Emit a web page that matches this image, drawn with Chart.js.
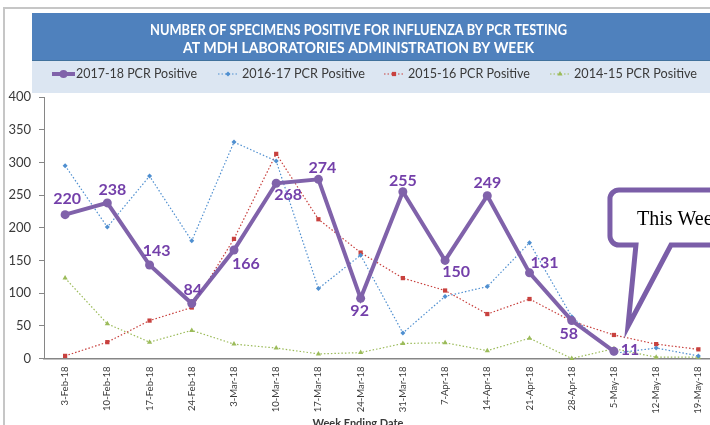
<!DOCTYPE html>
<html>
<head>
<meta charset="utf-8">
<script src="https://cdn.jsdelivr.net/npm/chart.js@4.4.1/dist/chart.umd.min.js"></script>
<style>
  html, body { margin: 0; padding: 0; background: #ffffff; overflow: hidden; }
  #wrap { position: relative; width: 710px; height: 425px; overflow: hidden; }
  canvas { display: block; }
</style>
</head>
<body>
<div id="wrap"><canvas id="c" width="724" height="432"></canvas></div>
<script>
// ---------- data ----------
const categories = ['3-Feb-18','10-Feb-18','17-Feb-18','24-Feb-18','3-Mar-18','10-Mar-18','17-Mar-18','24-Mar-18',
  '31-Mar-18','7-Apr-18','14-Apr-18','21-Apr-18','28-Apr-18','5-May-18','12-May-18','19-May-18'];
const pcr2017_18 = [220, 238, 143, 84, 166, 268, 274, 92, 255, 150, 249, 131, 58, 11, null, null];
const pcr2016_17 = [295, 201, 279, 180, 331, 302, 107, 158, 39, 95, 110, 177, 64, 8, 16, 4];
const pcr2015_16 = [4, 25, 58, 78, 183, 313, 213, 162, 123, 104, 68, 91, 57, 36, 22, 14];
const pcr2014_15 = [123, 53, 25, 43, 22, 16, 7, 9, 23, 24, 12, 31, 0, 15, 2, 2];
const seriesNames = ['2017-18 PCR Positive', '2016-17 PCR Positive', '2015-16 PCR Positive', '2014-15 PCR Positive'];
const yMin = 0, yMax = 400, yStep = 50;
const titleLines = ['NUMBER OF SPECIMENS POSITIVE FOR INFLUENZA BY PCR TESTING', 'AT MDH LABORATORIES ADMINISTRATION BY WEEK'];
const xAxisTitle = 'Week Ending Date';
const calloutText = 'This Week';
const calloutIndex = 13;

// ---------- styling ----------
const PURPLE = '#8062aa';
const LABEL_PURPLE = '#7440aa';
const BLUE = '#4f8fd0';
const RED = '#c8413e';
const GREEN = '#9bbb59';
const AXIS = '#868686';
const TEXT = '#3a3a3a';
// label offsets (dx, dy) relative to each 2017-18 point
const labelOffsets = [[2,-16],[5,-13],[7,-14],[1,-14],[12,14],[12,12],[4,-12],[-1,12],[0,-11],[11,11],[0,-13],[15,-10],[-3,13],[16,-1]];

const decorPlugin = {
  id: 'decor',
  beforeDraw(chart) {
    const ctx = chart.ctx;
    ctx.save();
    ctx.fillStyle = '#ffffff';
    ctx.fillRect(0, 0, chart.width, chart.height);
    // outer frame
    ctx.fillStyle = '#c6c6c6';
    ctx.fillRect(3, 7, chart.width, 2);
    ctx.fillRect(3, 7, 2, chart.height);
    // title band
    ctx.fillStyle = '#4f81bd';
    ctx.fillRect(32, 13, chart.width, 48);
    ctx.fillStyle = '#41719c';
    ctx.fillRect(32, 60, chart.width, 1);
    // legend band
    ctx.fillStyle = '#dce6f2';
    ctx.fillRect(32, 61, chart.width, 32);
    // title text
    ctx.fillStyle = '#ffffff';
    ctx.textBaseline = 'alphabetic';
    ctx.textAlign = 'left';
    ctx.font = 'bold 16px Lato';
    const targets = [[150, 567, 35], [183, 534, 53]];
    titleLines.forEach((t, i) => {
      const [x0, x1, yb] = targets[i];
      const w = ctx.measureText(t).width;
      const sx = (x1 - x0) / w;
      ctx.save();
      ctx.translate(x0, yb);
      ctx.scale(sx, 1);
      ctx.fillText(t, 0, 0);
      ctx.restore();
    });
    // legend
    const items = [
      {x0: 52, x1: 75, tx: 76, tw: 121, color: PURPLE, dash: [], lw: 4, style: 'circle', r: 4},
      {x0: 218, x1: 238, tx: 242, tw: 123, color: BLUE, dash: [1.5, 2], lw: 1.2, style: 'rectRot', r: 2.5},
      {x0: 384, x1: 404, tx: 408, tw: 122, color: RED, dash: [1.5, 2], lw: 1.2, style: 'rect', r: 3},
      {x0: 550, x1: 570, tx: 574, tw: 123, color: GREEN, dash: [1.5, 2], lw: 1.2, style: 'triangle', r: 3}
    ];
    const ly = 74;
    items.forEach((it, i) => {
      ctx.save();
      ctx.strokeStyle = it.color;
      ctx.lineWidth = it.lw;
      ctx.setLineDash(it.dash);
      ctx.beginPath();
      ctx.moveTo(it.x0, ly);
      ctx.lineTo(it.x1, ly);
      ctx.stroke();
      ctx.setLineDash([]);
      ctx.fillStyle = it.color;
      Chart.helpers.drawPoint(ctx, {pointStyle: it.style, radius: it.r, borderWidth: 0}, (it.x0 + it.x1) / 2, ly);
      ctx.restore();
      ctx.fillStyle = TEXT;
      ctx.font = '13.5px Lato';
      ctx.textBaseline = 'middle';
      const w = ctx.measureText(seriesNames[i]).width;
      ctx.save();
      ctx.translate(it.tx, ly);
      ctx.scale(it.tw / w, 1);
      ctx.fillText(seriesNames[i], 0, 0);
      ctx.restore();
    });
    ctx.restore();
  },
  afterDatasetsDraw(chart) {
    const ctx = chart.ctx;
    const meta = chart.getDatasetMeta(0);
    ctx.save();
    // data labels for 2017-18
    ctx.fillStyle = LABEL_PURPLE;
    ctx.font = 'bold 16px Lato';
    ctx.textAlign = 'center';
    ctx.textBaseline = 'middle';
    pcr2017_18.forEach((v, i) => {
      if (v === null) return;
      const el = meta.data[i];
      const [dx, dy] = labelOffsets[i];
      ctx.fillText(String(v), el.x + dx, el.y + dy);
    });
    // callout
    const p = meta.data[calloutIndex];
    const tipX = p.x + 14, tipY = p.y - 25;
    const left = p.x - 4, top = 190, bottom = 245, right = chart.width + 40, r = 9;
    ctx.beginPath();
    ctx.moveTo(left + r, top);
    ctx.lineTo(right, top);
    ctx.lineTo(right, bottom);
    ctx.lineTo(p.x + 57, bottom);
    ctx.lineTo(tipX, tipY);
    ctx.lineTo(p.x + 22, bottom);
    ctx.lineTo(left + r, bottom);
    ctx.arcTo(left, bottom, left, bottom - r, r);
    ctx.lineTo(left, top + r);
    ctx.arcTo(left, top, left + r, top, r);
    ctx.closePath();
    ctx.fillStyle = '#ffffff';
    ctx.fill();
    ctx.strokeStyle = '#7b5ea8';
    ctx.lineWidth = 5;
    ctx.lineJoin = 'miter';
    ctx.stroke();
    ctx.fillStyle = '#000000';
    ctx.font = '20px "Liberation Serif"';
    ctx.textAlign = 'left';
    ctx.textBaseline = 'alphabetic';
    ctx.fillText(calloutText, left + 27, 225);
    // x axis title
    ctx.fillStyle = TEXT;
    ctx.font = 'bold 11px Lato';
    ctx.textAlign = 'center';
    ctx.textBaseline = 'middle';
    ctx.fillText(xAxisTitle, 358, 423);
    ctx.restore();
  }
};

const lineBase = {tension: 0, fill: false, spanGaps: false, clip: false};

new Chart(document.getElementById('c'), {
  type: 'line',
  data: {
    labels: categories,
    datasets: [
      Object.assign({}, lineBase, {label: seriesNames[0], data: pcr2017_18, borderColor: PURPLE, backgroundColor: PURPLE,
        borderWidth: 4, pointStyle: 'circle', pointRadius: 4.5, pointBorderWidth: 0, order: 0}),
      Object.assign({}, lineBase, {label: seriesNames[1], data: pcr2016_17, borderColor: BLUE, backgroundColor: BLUE,
        borderWidth: 1.2, borderDash: [1.5, 2], pointStyle: 'rectRot', pointRadius: 2.5, pointBorderWidth: 0, order: 1}),
      Object.assign({}, lineBase, {label: seriesNames[2], data: pcr2015_16, borderColor: RED, backgroundColor: RED,
        borderWidth: 1.2, borderDash: [1.5, 2], pointStyle: 'rect', pointRadius: 3, pointBorderWidth: 0, order: 2}),
      Object.assign({}, lineBase, {label: seriesNames[3], data: pcr2014_15, borderColor: GREEN, backgroundColor: GREEN,
        borderWidth: 1.2, borderDash: [1.5, 2], pointStyle: 'triangle', pointRadius: 3, pointBorderWidth: 0, order: 3})
    ]
  },
  options: {
    responsive: false,
    animation: false,
    devicePixelRatio: 1,
    layout: {padding: {top: 97, left: 0, right: 4, bottom: 0}},
    plugins: {legend: {display: false}, title: {display: false}, tooltip: {enabled: false}},
    scales: {
      x: {
        type: 'category',
        offset: true,
        grid: {display: false, drawTicks: false},
        border: {display: true, color: AXIS, width: 1.5},
        ticks: {autoSkip: false, maxRotation: 90, minRotation: 90, padding: 8, color: TEXT,
          font: {family: 'Lato', size: 9.5}},
        afterFit(s) { s.height = 432 - 358.5; }
      },
      y: {
        min: yMin, max: yMax,
        ticks: {stepSize: yStep, padding: 8, color: TEXT, font: {family: 'Lato', size: 13}},
        grid: {drawOnChartArea: false, tickLength: 5, color: AXIS},
        border: {display: true, color: AXIS, width: 1},
        afterFit(s) { s.width = 44; }
      }
    }
  },
  plugins: [decorPlugin]
});
</script>
</body>
</html>
